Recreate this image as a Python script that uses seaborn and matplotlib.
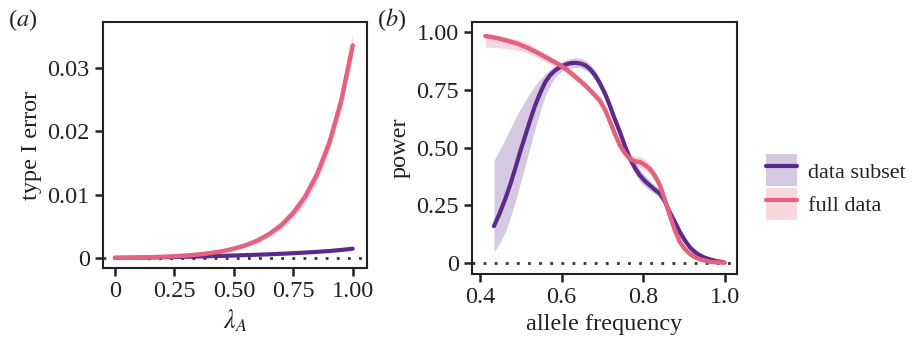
import numpy as np
import pandas as pd
import matplotlib
matplotlib.use("Agg")
import matplotlib.pyplot as plt
import seaborn as sns
from matplotlib.patches import Patch
from matplotlib.lines import Line2D
from matplotlib.legend_handler import HandlerTuple

# panel (a): type I error vs lambda_A
lam = [0.0, 0.05, 0.10, 0.15, 0.20, 0.25, 0.30, 0.35, 0.40, 0.45, 0.50,
       0.55, 0.60, 0.65, 0.70, 0.75, 0.80, 0.85, 0.90, 0.95, 1.00]
full_err = [0.0, 0.00002, 0.00006, 0.00011, 0.00017, 0.00025, 0.00037, 0.00053,
            0.00075, 0.00104, 0.00145, 0.0020, 0.00275, 0.00378, 0.00517, 0.0071,
            0.00967, 0.0132, 0.0180, 0.0246, 0.0336]
full_err_lo = [0.0, 0.00001, 0.00004, 0.00008, 0.00012, 0.00019, 0.00028, 0.00041,
               0.00060, 0.00085, 0.00120, 0.0017, 0.00235, 0.00330, 0.00455, 0.0063,
               0.00870, 0.0120, 0.0166, 0.0230, 0.0318]
full_err_hi = [0.00002, 0.00004, 0.00009, 0.00015, 0.00023, 0.00033, 0.00048, 0.00068,
               0.00095, 0.00130, 0.00178, 0.0024, 0.00325, 0.00440, 0.00590, 0.0080,
               0.01070, 0.0144, 0.0195, 0.0263, 0.0356]
sub_err = [0.0, 0.00002, 0.00004, 0.00007, 0.0001, 0.00014, 0.00018, 0.00022,
           0.00027, 0.00032, 0.00038, 0.00044, 0.0005, 0.00057, 0.00065, 0.00074,
           0.00084, 0.00095, 0.00108, 0.00125, 0.00145]
sub_err_lo = [0.0, 0.0, 0.00002, 0.00005, 0.00007, 0.0001, 0.00014, 0.00018,
              0.00022, 0.00027, 0.00032, 0.00038, 0.00043, 0.0005, 0.00057, 0.00065,
              0.00075, 0.00085, 0.00097, 0.00112, 0.0013]
sub_err_hi = [0.00002, 0.00004, 0.00006, 0.00009, 0.00013, 0.00018, 0.00022, 0.00026,
              0.00032, 0.00037, 0.00044, 0.0005, 0.00057, 0.00064, 0.00073, 0.00083,
              0.00093, 0.00105, 0.0012, 0.00138, 0.0016]

# panel (b): power vs allele frequency
af_full = [0.413, 0.44, 0.462, 0.49, 0.511, 0.535, 0.56, 0.585, 0.609, 0.633, 0.658,
           0.68, 0.694, 0.707, 0.718, 0.73, 0.743, 0.755, 0.767, 0.78, 0.792,
           0.804, 0.816, 0.828, 0.841, 0.853, 0.865, 0.878, 0.89, 0.902, 0.914,
           0.926, 0.939, 0.963, 1.0]
pow_full = [0.984, 0.976, 0.966, 0.952, 0.937, 0.917, 0.893, 0.869, 0.843, 0.808, 0.770,
            0.73, 0.703, 0.662, 0.616, 0.562, 0.51, 0.476, 0.452, 0.44, 0.437,
            0.425, 0.408, 0.38, 0.336, 0.275, 0.206, 0.14, 0.09, 0.06, 0.039,
            0.025, 0.015, 0.004, 0.0]
pow_full_lo = [0.937, 0.934, 0.93, 0.923, 0.915, 0.895, 0.872, 0.852, 0.828, 0.793, 0.755,
               0.715, 0.688, 0.647, 0.601, 0.547, 0.495, 0.46, 0.435, 0.42, 0.413,
               0.40, 0.385, 0.36, 0.318, 0.258, 0.19, 0.126, 0.077, 0.048, 0.028,
               0.015, 0.006, 0.0, 0.0]
pow_full_hi = [0.995, 0.99, 0.98, 0.97, 0.958, 0.936, 0.91, 0.884, 0.858, 0.823, 0.785,
               0.745, 0.718, 0.677, 0.631, 0.577, 0.525, 0.492, 0.47, 0.462, 0.462,
               0.45, 0.432, 0.40, 0.354, 0.292, 0.222, 0.154, 0.103, 0.072, 0.05,
               0.035, 0.024, 0.01, 0.004]
af_sub = [0.434, 0.448, 0.462, 0.474, 0.486, 0.498, 0.511, 0.523, 0.535, 0.548, 0.56,
          0.572, 0.584, 0.597, 0.609, 0.621, 0.633, 0.646, 0.658, 0.67, 0.682,
          0.694, 0.707, 0.718, 0.73, 0.743, 0.755, 0.767, 0.78, 0.792, 0.804,
          0.816, 0.828, 0.841, 0.853, 0.865, 0.878, 0.89, 0.902, 0.914, 0.926,
          0.939, 0.951, 0.963, 0.98, 0.996]
pow_sub = [0.159, 0.215, 0.278, 0.34, 0.408, 0.48, 0.553, 0.62, 0.683, 0.74, 0.785,
           0.815, 0.835, 0.85, 0.86, 0.866, 0.868, 0.865, 0.857, 0.84, 0.814,
           0.778, 0.732, 0.683, 0.625, 0.567, 0.508, 0.455, 0.41, 0.379, 0.355,
           0.336, 0.318, 0.30, 0.266, 0.22, 0.176, 0.133, 0.098, 0.068, 0.048,
           0.032, 0.022, 0.015, 0.007, 0.003]
pow_sub_lo = [0.046, 0.085, 0.133, 0.195, 0.264, 0.34, 0.423, 0.505, 0.582, 0.66, 0.727,
              0.77, 0.806, 0.826, 0.84, 0.845, 0.847, 0.845, 0.837, 0.82, 0.794,
              0.758, 0.712, 0.663, 0.605, 0.547, 0.488, 0.435, 0.385, 0.352, 0.33,
              0.314, 0.298, 0.282, 0.248, 0.203, 0.16, 0.119, 0.085, 0.057, 0.038,
              0.023, 0.014, 0.008, 0.002, 0.0]
pow_sub_hi = [0.445, 0.49, 0.538, 0.582, 0.625, 0.665, 0.705, 0.738, 0.77, 0.797, 0.82,
              0.84, 0.857, 0.87, 0.879, 0.886, 0.89, 0.888, 0.88, 0.862, 0.835,
              0.798, 0.752, 0.703, 0.645, 0.587, 0.528, 0.475, 0.435, 0.405, 0.38,
              0.358, 0.338, 0.318, 0.284, 0.237, 0.192, 0.147, 0.111, 0.079, 0.058,
              0.041, 0.03, 0.022, 0.012, 0.006]

purple = "#5b2a8c"
pink = "#e4627f"

sns.set_theme(style="ticks")
plt.rcParams["font.family"] = ["Liberation Serif", "DejaVu Serif"]
plt.rcParams["mathtext.fontset"] = "stix"
plt.rcParams["text.color"] = "#222222"
plt.rcParams["axes.labelcolor"] = "#222222"
plt.rcParams["xtick.color"] = "#222222"
plt.rcParams["ytick.color"] = "#222222"

fs = 17.5
fig = plt.figure(figsize=(9.15, 3.45), dpi=100)
ax_a = fig.add_axes([0.1126, 0.2232, 0.2885, 0.713])
ax_b = fig.add_axes([0.5158, 0.2058, 0.2896, 0.7304])

# (a)
ax_a.fill_between(lam, full_err_lo, full_err_hi, color=pink, alpha=0.25, lw=0)
ax_a.fill_between(lam, sub_err_lo, sub_err_hi, color=purple, alpha=0.25, lw=0)
sns.lineplot(x=lam, y=sub_err, color=purple, lw=3, ax=ax_a)
sns.lineplot(x=lam, y=full_err, color=pink, lw=3.2, ax=ax_a)
ax_a.axhline(0, ls=(0, (1, 3)), color="#333333", lw=2, zorder=1)
ax_a.set_xlim(-0.05, 1.06)
ax_a.set_ylim(-0.0016, 0.0373)
ax_a.set_xticks([0, 0.25, 0.5, 0.75, 1.0])
ax_a.set_xticklabels(["0", "0.25", "0.50", "0.75", "1.00"])
ax_a.set_yticks([0, 0.01, 0.02, 0.03])
ax_a.set_yticklabels(["0", "0.01", "0.02", "0.03"])
ax_a.set_xlabel(r"$\lambda_A$", fontsize=fs + 1)
ax_a.set_ylabel("type I error", fontsize=fs)

# (b)
ax_b.fill_between(af_sub, pow_sub_lo, pow_sub_hi, color=purple, alpha=0.25, lw=0)
ax_b.fill_between(af_full, pow_full_lo, pow_full_hi, color=pink, alpha=0.25, lw=0)
sns.lineplot(x=af_sub, y=pow_sub, color=purple, lw=3, ax=ax_b)
sns.lineplot(x=af_full, y=pow_full, color=pink, lw=3.2, ax=ax_b)
ax_b.axhline(0, ls=(0, (1, 3)), color="#333333", lw=2, zorder=1)
ax_b.set_xlim(0.38, 1.03)
ax_b.set_ylim(-0.049, 1.045)
ax_b.set_xticks([0.4, 0.6, 0.8, 1.0])
ax_b.set_xticklabels(["0.4", "0.6", "0.8", "1.0"])
ax_b.set_yticks([0, 0.25, 0.5, 0.75, 1.0])
ax_b.set_yticklabels(["0", "0.25", "0.50", "0.75", "1.00"])
ax_b.set_xlabel("allele frequency", fontsize=fs)
ax_b.set_ylabel("power", fontsize=fs)

for ax in (ax_a, ax_b):
    for sp in ax.spines.values():
        sp.set_linewidth(1.5)
        sp.set_color("#222222")
    ax.tick_params(labelsize=fs, width=1.8, length=6, direction="out")

fig.text(0.009, 0.925, r"($\it{a}$)", fontsize=fs)
fig.text(0.412, 0.925, r"($\it{b}$)", fontsize=fs)

handles = [
    (Patch(facecolor=purple, alpha=0.25, lw=0), Line2D([], [], color=purple, lw=3)),
    (Patch(facecolor=pink, alpha=0.25, lw=0), Line2D([], [], color=pink, lw=3)),
]
fig.legend(handles, ["data subset", "full data"], loc="center left",
           bbox_to_anchor=(0.818, 0.457), frameon=False, fontsize=16,
           handler_map={tuple: HandlerTuple(ndivide=1)},
           handlelength=1.4, handleheight=1.85, handletextpad=0.5, labelspacing=0.08,
           borderpad=0.3)

fig.savefig("out.png", dpi=100)
